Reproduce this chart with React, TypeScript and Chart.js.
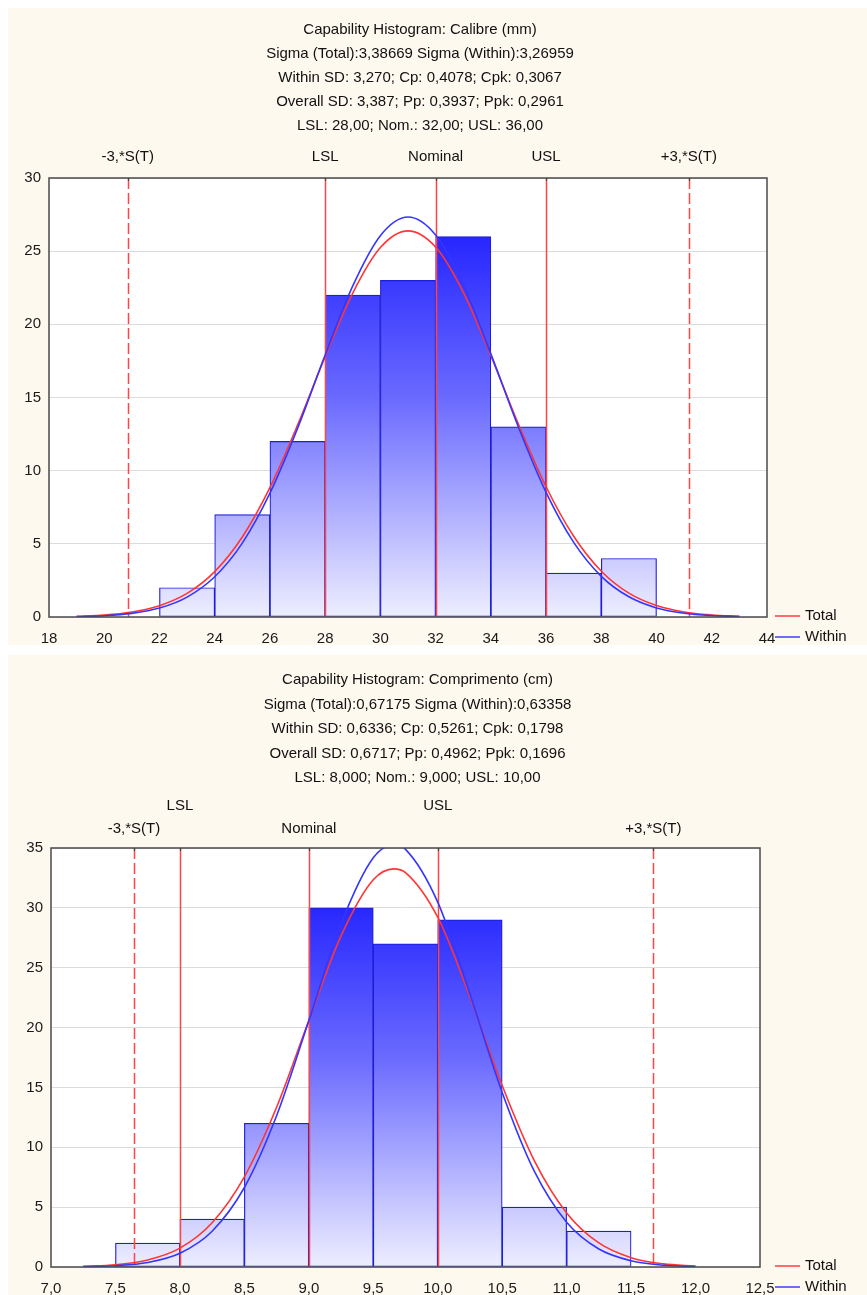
import React, { useEffect, useRef } from 'react';
import { Chart, registerables } from 'chart.js';

Chart.register(...registerables);
Chart.defaults.font.family = '"Liberation Sans", Arial, sans-serif';

const CREAM = '#fef9ef';

// ---------- Calibre (mm) ----------
const calibreTitle = [
  'Capability Histogram: Calibre (mm)',
  'Sigma (Total):3,38669 Sigma (Within):3,26959',
  'Within SD: 3,270; Cp: 0,4078; Cpk: 0,3067',
  'Overall SD: 3,387; Pp: 0,3937; Ppk: 0,2961',
  'LSL: 28,00; Nom.: 32,00; USL: 36,00',
];
const calibreBinCenters = [23, 25, 27, 29, 31, 33, 35, 37, 39];
const calibreCounts = [2, 7, 12, 22, 23, 26, 13, 3, 4];
const calibreCurveX = [19, 20, 21, 22, 23, 24, 25, 26, 27, 28, 29, 30, 31, 32, 33, 34, 35, 36, 37, 38, 39, 40, 41, 42, 43];
const calibreTotalCurve = [0.05, 0.13, 0.34, 0.77, 1.61, 3.1, 5.47, 8.84, 13.11, 17.79, 22.14, 25.25, 26.39, 25.28, 22.2, 17.86, 13.17, 8.9, 5.52, 3.13, 1.63, 0.78, 0.34, 0.14, 0.05];
const calibreWithinCurve = [0.03, 0.09, 0.25, 0.61, 1.36, 2.75, 5.05, 8.46, 12.89, 17.9, 22.63, 26.06, 27.33, 26.1, 22.7, 17.98, 12.97, 8.52, 5.1, 2.78, 1.38, 0.62, 0.26, 0.1, 0.03];
const calibreRefValues = [20.85, 28, 32, 36, 41.17];
const calibreRefLabels = ['-3,*S(T)', 'LSL', 'Nominal', 'USL', '+3,*S(T)'];
const calibreRefDashed = [true, false, false, false, true];
const calibreRefRows = [0, 0, 0, 0, 0];
const calibreXTicks = [18, 20, 22, 24, 26, 28, 30, 32, 34, 36, 38, 40, 42, 44];
const calibreXTickLabels = ['18', '20', '22', '24', '26', '28', '30', '32', '34', '36', '38', '40', '42', '44'];
const calibreYTicks = [0, 5, 10, 15, 20, 25, 30];
const calibreYTickLabels = ['0', '5', '10', '15', '20', '25', '30'];

// ---------- Comprimento (cm) ----------
const comprTitle = [
  'Capability Histogram: Comprimento (cm)',
  'Sigma (Total):0,67175 Sigma (Within):0,63358',
  'Within SD: 0,6336; Cp: 0,5261; Cpk: 0,1798',
  'Overall SD: 0,6717; Pp: 0,4962; Ppk: 0,1696',
  'LSL: 8,000; Nom.: 9,000; USL: 10,00',
];
const comprBinCenters = [7.75, 8.25, 8.75, 9.25, 9.75, 10.25, 10.75, 11.25];
const comprCounts = [2, 4, 12, 30, 27, 29, 5, 3];
const comprCurveX = [7.25, 7.5, 7.75, 8.0, 8.25, 8.5, 8.75, 9.0, 9.25, 9.5, 9.66, 9.75, 10.0, 10.25, 10.5, 10.75, 11.0, 11.25, 11.5, 11.75, 12.0];
const comprTotalCurve = [0.05, 0.19, 0.59, 1.58, 3.7, 7.53, 13.34, 20.59, 27.66, 32.35, 33.26, 32.95, 29.22, 22.56, 15.16, 8.87, 4.52, 2.01, 0.78, 0.26, 0.08];
const comprWithinCurve = [0.03, 0.11, 0.38, 1.15, 2.99, 6.64, 12.63, 20.56, 28.66, 34.18, 35.26, 34.89, 30.48, 22.79, 14.58, 7.98, 3.74, 1.5, 0.52, 0.15, 0.04];
const comprRefValues = [7.643, 8, 9, 10, 11.673];
const comprRefLabels = ['-3,*S(T)', 'LSL', 'Nominal', 'USL', '+3,*S(T)'];
const comprRefDashed = [true, false, false, false, true];
const comprRefRows = [0, 1, 0, 1, 0];
const comprXTicks = [7.0, 7.5, 8.0, 8.5, 9.0, 9.5, 10.0, 10.5, 11.0, 11.5, 12.0, 12.5];
const comprXTickLabels = ['7,0', '7,5', '8,0', '8,5', '9,0', '9,5', '10,0', '10,5', '11,0', '11,5', '12,0', '12,5'];
const comprYTicks = [0, 5, 10, 15, 20, 25, 30, 35];
const comprYTickLabels = ['0', '5', '10', '15', '20', '25', '30', '35'];

const legendLabels = ['Total', 'Within'];
const legendColors = ['#ff3c3c', '#3c3cff'];

type PanelCfg = {
  height: number;
  title: string[];
  titleStart: number;
  titleStep: number;
  binCenters: number[];
  counts: number[];
  curveX: number[];
  total: number[];
  within: number[];
  refValues: number[];
  refLabels: string[];
  refDashed: boolean[];
  refRows: number[];
  rowOffsets: number[];
  xMin: number;
  xMax: number;
  xTicks: number[];
  xTickLabels: string[];
  yMax: number;
  yTicks: number[];
  yTickLabels: string[];
  padTop: number;
  padRight: number;
  yWidth: number;
};

const topCfg: PanelCfg = {
  height: 637,
  title: calibreTitle,
  titleStart: 22,
  titleStep: 24,
  binCenters: calibreBinCenters,
  counts: calibreCounts,
  curveX: calibreCurveX,
  total: calibreTotalCurve,
  within: calibreWithinCurve,
  refValues: calibreRefValues,
  refLabels: calibreRefLabels,
  refDashed: calibreRefDashed,
  refRows: calibreRefRows,
  rowOffsets: [21, 42],
  xMin: 18,
  xMax: 44,
  xTicks: calibreXTicks,
  xTickLabels: calibreXTickLabels,
  yMax: 30,
  yTicks: calibreYTicks,
  yTickLabels: calibreYTickLabels,
  padTop: 170,
  padRight: 100,
  yWidth: 41,
};

const bottomCfg: PanelCfg = {
  height: 640,
  title: comprTitle,
  titleStart: 25,
  titleStep: 24.5,
  binCenters: comprBinCenters,
  counts: comprCounts,
  curveX: comprCurveX,
  total: comprTotalCurve,
  within: comprWithinCurve,
  refValues: comprRefValues,
  refLabels: comprRefLabels,
  refDashed: comprRefDashed,
  refRows: comprRefRows,
  rowOffsets: [19, 42],
  xMin: 7.0,
  xMax: 12.5,
  xTicks: comprXTicks,
  xTickLabels: comprXTickLabels,
  yMax: 35,
  yTicks: comprYTicks,
  yTickLabels: comprYTickLabels,
  padTop: 193,
  padRight: 107,
  yWidth: 43,
};

function makeDecor(p: PanelCfg) {
  return {
    id: 'decor',
    beforeDraw(chart: any) {
      const { ctx, chartArea: a } = chart;
      ctx.save();
      ctx.fillStyle = '#ffffff';
      ctx.fillRect(a.left, a.top, a.right - a.left, a.bottom - a.top);
      ctx.restore();
    },
    afterDatasetDraw(chart: any, args: any) {
      if (args.index !== 0) return;
      const { ctx, chartArea: a, scales } = chart;
      const x = scales.x;
      ctx.save();
      p.refValues.forEach((v, i) => {
        const px = Math.round(x.getPixelForValue(v)) + 0.5;
        ctx.beginPath();
        ctx.strokeStyle = '#ff4646';
        ctx.lineWidth = 1.5;
        ctx.setLineDash(p.refDashed[i] ? [11, 4] : []);
        ctx.moveTo(px, a.top);
        ctx.lineTo(px, a.bottom);
        ctx.stroke();
      });
      ctx.restore();
    },
    afterDraw(chart: any) {
      const { ctx, chartArea: a, scales } = chart;
      const x = scales.x;
      ctx.save();
      ctx.strokeStyle = '#4a4a4a';
      ctx.lineWidth = 1.5;
      ctx.setLineDash([]);
      ctx.strokeRect(a.left, a.top, a.right - a.left, a.bottom - a.top);
      p.refValues.forEach((v) => {
        const px = Math.round(x.getPixelForValue(v)) + 0.5;
        ctx.beginPath();
        ctx.strokeStyle = '#444';
        ctx.lineWidth = 1.2;
        ctx.moveTo(px, a.top);
        ctx.lineTo(px, a.top + 3);
        ctx.stroke();
      });
      ctx.fillStyle = '#111';
      ctx.font = '15px "Liberation Sans", Arial, sans-serif';
      ctx.textAlign = 'center';
      ctx.textBaseline = 'middle';
      const cx = (a.left + a.right) / 2 + 12;
      p.title.forEach((t, i) => {
        ctx.fillText(t, cx, p.titleStart + i * p.titleStep);
      });
      p.refValues.forEach((v, i) => {
        const px = x.getPixelForValue(v);
        ctx.fillText(p.refLabels[i], px, a.top - p.rowOffsets[p.refRows[i]]);
      });
      const lx = 767;
      legendLabels.forEach((lab, i) => {
        const ly = a.bottom - 1 + i * 21;
        ctx.beginPath();
        ctx.strokeStyle = legendColors[i];
        ctx.lineWidth = 1.5;
        ctx.moveTo(lx, ly);
        ctx.lineTo(lx + 25, ly);
        ctx.stroke();
        ctx.textAlign = 'left';
        ctx.fillStyle = '#111';
        ctx.fillText(lab, lx + 30, ly);
      });
      ctx.restore();
    },
  };
}

function buildConfig(p: PanelCfg): any {
  const barGradient = (c: any) => {
    const chart = c.chart;
    const a = chart.chartArea;
    if (!a) return '#8080ff';
    const g = chart.ctx.createLinearGradient(0, a.bottom, 0, a.top);
    g.addColorStop(0, '#eeeeff');
    g.addColorStop(0.5, '#6a6aff');
    g.addColorStop(1, '#0e0eff');
    return g;
  };
  return {
    type: 'bar',
    data: {
      datasets: [
        {
          type: 'bar',
          data: p.binCenters.map((cx, i) => ({ x: cx, y: p.counts[i] })),
          backgroundColor: barGradient,
          borderColor: '#1e1ed8',
          borderWidth: 1.2,
          borderSkipped: false,
          barPercentage: 1,
          categoryPercentage: 1,
          order: 3,
        },
        {
          type: 'line',
          data: p.curveX.map((vx, i) => ({ x: vx, y: p.total[i] })),
          borderColor: '#ff3535',
          borderWidth: 1.6,
          pointRadius: 0,
          cubicInterpolationMode: 'monotone',
          order: 2,
        },
        {
          type: 'line',
          data: p.curveX.map((vx, i) => ({ x: vx, y: p.within[i] })),
          borderColor: '#3535ff',
          borderWidth: 1.6,
          pointRadius: 0,
          cubicInterpolationMode: 'monotone',
          order: 1,
        },
      ],
    },
    options: {
      responsive: false,
      maintainAspectRatio: false,
      animation: false,
      layout: { padding: { left: 0, right: p.padRight, top: p.padTop, bottom: 0 } },
      plugins: {
        legend: { display: false },
        tooltip: { enabled: false },
        title: { display: false },
      },
      scales: {
        x: {
          type: 'linear',
          offset: false,
          min: p.xMin,
          max: p.xMax,
          afterBuildTicks: (s: any) => {
            s.ticks = p.xTicks.map((v) => ({ value: v }));
          },
          afterFit: (s: any) => {
            s.height = 28;
          },
          ticks: {
            autoSkip: false,
            maxRotation: 0,
            padding: 5,
            color: '#1a1a1a',
            font: { size: 15 },
            callback: (_v: any, i: number) => p.xTickLabels[i],
          },
          grid: { display: false, offset: false },
          border: { display: false },
        },
        y: {
          type: 'linear',
          min: 0,
          max: p.yMax,
          afterBuildTicks: (s: any) => {
            s.ticks = p.yTicks.map((v) => ({ value: v }));
          },
          afterFit: (s: any) => {
            s.width = p.yWidth;
          },
          ticks: {
            padding: 8,
            color: '#1a1a1a',
            font: { size: 15 },
            callback: (_v: any, i: number) => p.yTickLabels[i],
          },
          grid: { color: '#dcdcdc', drawTicks: false, lineWidth: 1 },
          border: { display: false },
        },
      },
    },
    plugins: [makeDecor(p)],
  };
}

function HistPanel({ cfg }: { cfg: PanelCfg }) {
  const ref = useRef<HTMLCanvasElement>(null);
  useEffect(() => {
    const chart = new Chart(ref.current as HTMLCanvasElement, buildConfig(cfg));
    return () => chart.destroy();
  }, [cfg]);
  return (
    <div style={{ background: CREAM, width: 859, height: cfg.height }}>
      <canvas ref={ref} width={859} height={cfg.height} style={{ display: 'block' }} />
    </div>
  );
}

export default function App() {
  return (
    <div style={{ position: 'absolute', left: 8, top: 8, width: 859 }}>
      <HistPanel cfg={topCfg} />
      <div style={{ height: 10, background: '#ffffff' }} />
      <HistPanel cfg={bottomCfg} />
    </div>
  );
}
